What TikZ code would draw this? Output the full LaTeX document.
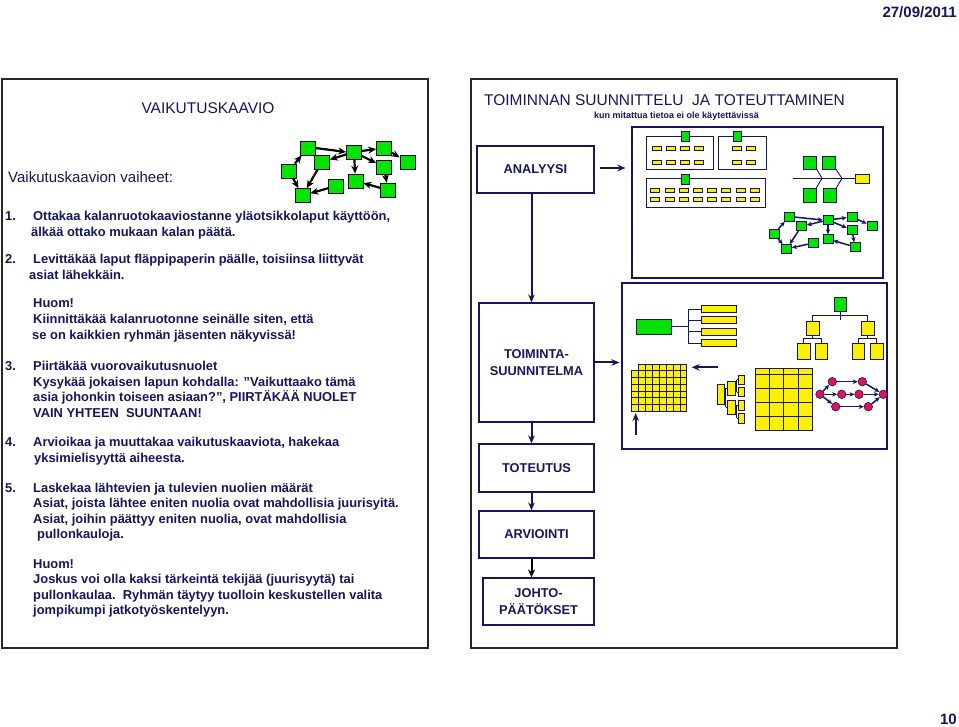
\documentclass[tikz,border=0pt]{standalone}
\usepackage{fontspec}
\setmainfont{Liberation Sans}
\usetikzlibrary{arrows.meta}
\definecolor{navy}{RGB}{22,22,96}
\definecolor{gr}{RGB}{0,228,0}
\definecolor{ye}{RGB}{250,240,0}
\definecolor{pk}{RGB}{222,20,90}
\definecolor{frame}{RGB}{40,40,40}
\begin{document}
\begin{tikzpicture}[x=1pt,y=-1pt,
  txt/.style={anchor=base west,text=navy,font=\bfseries\fontsize{12.9}{16}\selectfont,inner sep=0pt},
  gbox/.style={draw=black,fill=gr,minimum width=15pt,minimum height=14pt,inner sep=0pt,line width=0.7pt},
  sbox/.style={draw=navy,fill=gr,minimum width=10pt,minimum height=9pt,inner sep=0pt,line width=0.6pt},
  arr/.style={-{Stealth[length=8pt,width=7pt]},line width=2.2pt,draw=black},
  marr/.style={-{Stealth[length=5pt,width=4.5pt]},line width=1.5pt,draw=navy},
  narr/.style={-{Stealth[length=8pt,width=6.5pt]},line width=2pt,draw=navy},
  flow/.style={draw=navy,line width=1.2pt,text=navy,align=center,inner sep=0pt,font=\bfseries\fontsize{12.8}{17}\selectfont},
  dbox/.style={draw=navy,line width=1.1pt,inner sep=0pt},
  panel/.style={draw=frame,line width=1.4pt},
  yr/.style={draw=navy,fill=ye,line width=0.6pt},
  gr1/.style={draw=navy,fill=gr,line width=0.6pt},
  thin/.style={draw=navy,line width=0.9pt},
  pnode/.style={circle,draw=navy,fill=pk,minimum size=8.5pt,inner sep=0pt,line width=0.6pt}
]
\path[use as bounding box,fill=white] (0,0) rectangle (959,727);

% header / footer
\node[anchor=base east,text=navy,inner sep=0pt,font=\bfseries\fontsize{15}{18}\selectfont] (date) at (957,18) {27/09/2011};
\node[anchor=base east,text=navy,inner sep=0pt,font=\bfseries\fontsize{15}{18}\selectfont] (pg) at (957,724) {10};

% panels
\draw[panel] (2,79) rectangle (428,648);
\draw[panel] (471,79) rectangle (897,648);

% ---------- left panel ----------
\node[text=navy,font=\fontsize{15.5}{18}\selectfont,inner sep=0pt] (ltitle) at (208,108) {VAIKUTUSKAAVIO};
\node[anchor=base west,text=navy,inner sep=0pt,font=\fontsize{15}{18}\selectfont] (vaiheet) at (8,182.5) {Vaikutuskaavion vaiheet:};

\node[txt] (n1) at (5,221) {1.};
\node[txt] (t1a) at (33,221) {Ottakaa kalanruotokaaviostanne yläotsikkolaput käyttöön,};
\node[txt] (t1b) at (31,237) {älkää ottako mukaan kalan päätä.};
\node[txt] (n2) at (5,264) {2.};
\node[txt] (t2a) at (33,264) {Levittäkää laput fläppipaperin päälle, toisiinsa liittyvät};
\node[txt] (t2b) at (29,279.5) {asiat lähekkäin.};
\node[txt] (h1) at (33,308) {Huom!};
\node[txt] (h1a) at (33,324) {Kiinnittäkää kalanruotonne seinälle siten, että};
\node[txt] (h1b) at (32,339.5) {se on kaikkien ryhmän jäsenten näkyvissä!};
\node[txt] (n3) at (5,371) {3.};
\node[txt] (t3a) at (33,371) {Piirtäkää vuorovaikutusnuolet};
\node[txt] (t3b) at (33,386.5) {Kysykää jokaisen lapun kohdalla: ”Vaikuttaako tämä};
\node[txt] (t3c) at (33,401.5) {asia johonkin toiseen asiaan?”, PIIRTÄKÄÄ NUOLET};
\node[txt] (t3d) at (33,417.5) {VAIN YHTEEN\ \ SUUNTAAN!};
\node[txt] (n4) at (5,446.5) {4.};
\node[txt] (t4a) at (33,446.5) {Arvioikaa ja muuttakaa vaikutuskaaviota, hakekaa};
\node[txt] (t4b) at (34,462.5) {yksimielisyyttä aiheesta.};
\node[txt] (n5) at (5,492.5) {5.};
\node[txt] (t5a) at (33,492.5) {Laskekaa lähtevien ja tulevien nuolien määrät};
\node[txt] (t5b) at (33,507.5) {Asiat, joista lähtee eniten nuolia ovat mahdollisia juurisyitä.};
\node[txt] (t5c) at (33,523) {Asiat, joihin päättyy eniten nuolia, ovat mahdollisia};
\node[txt] (t5d) at (37,538) {pullonkauloja.};
\node[txt] (h2) at (33,568) {Huom!};
\node[txt] (h2a) at (33,583.5) {Joskus voi olla kaksi tärkeintä tekijää (juurisyytä) tai};
\node[txt] (h2b) at (33,599) {pullonkaulaa.\ \ Ryhmän täytyy tuolloin keskustellen valita};
\node[txt] (h2c) at (33,614.5) {jompikumpi jatkotyöskentelyyn.};

% top-left network
\node[gbox] (A) at (307.5,148) {};
\node[gbox] (B) at (322,162) {};
\node[gbox] (C) at (289,171) {};
\node[gbox] (D) at (302.5,195.5) {};
\node[gbox] (E) at (336,186) {};
\node[gbox] (F) at (354,152) {};
\node[gbox] (G) at (384,148) {};
\node[gbox] (H) at (407.5,162) {};
\node[gbox] (I) at (384,167) {};
\node[gbox] (J) at (355.5,181) {};
\node[gbox] (K) at (388,190) {};
\draw[arr] (A.east) -- (F.west);
\draw[arr] (F) -- (B);
\draw[arr] (C) -- (A);
\draw[arr] (C) -- (D);
\draw[arr] (B) -- (D);
\draw[arr] (E) -- (D);
\draw[arr] (F) -- (G);
\draw[arr] (G) -- (H);
\draw[arr] (F) -- (I);
\draw[arr] (F) -- (J);
\draw[arr] (I) -- (K);
\draw[arr] (K) -- (J);

% ---------- right panel ----------
\node[text=navy,font=\fontsize{15.5}{18}\selectfont,inner sep=0pt] (rtitle) at (664.5,100) {TOIMINNAN SUUNNITTELU\ \ JA TOTEUTTAMINEN};
\node[text=navy,font=\bfseries\fontsize{9}{11}\selectfont,inner sep=0pt] (rsub) at (676.5,116.5) {kun mitattua tietoa ei ole käytettävissä};

\node[flow,minimum width=117pt,minimum height=47pt] (an) at (535.5,169.5) {ANALYYSI};
\node[flow,minimum width=115pt,minimum height=119pt] (toim) at (536.5,362.5) {TOIMINTA-\\SUUNNITELMA};
\node[flow,minimum width=115pt,minimum height=48pt] (tot) at (536.5,468) {TOTEUTUS};
\node[flow,minimum width=115pt,minimum height=47pt] (arv) at (536.5,534.5) {ARVIOINTI};
\node[flow,minimum width=111pt,minimum height=47pt] (joh) at (538.5,601.5) {JOHTO-\\PÄÄTÖKSET};

\node[dbox,minimum width=251pt,minimum height=151pt] (db1) at (757.5,202.5) {};
\node[dbox,minimum width=265pt,minimum height=166pt] (db2) at (754.5,366) {};

\draw[narr] ([xshift=-4pt]an.south) -- ([xshift=-4pt]an.south |- toim.north);
\draw[narr] ([xshift=-5pt]toim.south) -- ([xshift=-5pt]toim.south |- tot.north);
\draw[narr] ([xshift=-5pt]tot.south) -- ([xshift=-5pt]tot.south |- arv.north);
\draw[arr,line width=2pt] ([xshift=-5pt]arv.south) -- ([xshift=-5pt]arv.south |- joh.north);
\draw[narr,shorten <=5pt,shorten >=6pt] ([yshift=1.5pt]an.east) -- ([yshift=1.5pt]an.east -| db1.west);
\draw[narr,shorten >=2pt] (toim.east) -- (toim.east -| db2.west);

% box 1: grouped notes
\draw[thin] (646,136) rectangle (713,169);
\draw[gr1] (681,131) rectangle (689,141);
\foreach \x in {656.5,670.5,684.5,698.5}{\foreach \y in {148,162}{\draw[yr] (\x-4.5,\y-2) rectangle (\x+4.5,\y+2);}}
\draw[thin] (718,136) rectangle (766,169);
\draw[gr1] (733,131) rectangle (741,141);
\foreach \x in {737,751}{\foreach \y in {148,162}{\draw[yr] (\x-4.5,\y-2) rectangle (\x+4.5,\y+2);}}
\draw[thin] (646,178) rectangle (765,207);
\draw[gr1] (681,174) rectangle (689,184);
\foreach \x in {655,669.5,684,698,712,726,740.5,754.5}{\foreach \y in {190.3,199.7}{\draw[yr] (\x-4.5,\y-2) rectangle (\x+4.5,\y+2);}}

% fishbone
\draw[thin] (793,178.3) -- (855,178.3);
\draw[thin] (816,168) -- (822,178.3) -- (816,188.5);
\draw[thin] (835,168) -- (842,178.3) -- (836,188.5);
\draw[gr1] (803,156) rectangle (816,169);
\draw[gr1] (822,156) rectangle (835,169);
\draw[gr1] (803,188) rectangle (816,202);
\draw[gr1] (823,188) rectangle (836,202);
\draw[yr] (855,174) rectangle (869,183);

% mini network
\node[sbox] (ma) at (789,217) {};
\node[sbox] (mb) at (801.5,226.3) {};
\node[sbox] (mc) at (774,233.7) {};
\node[sbox] (md) at (786.5,249) {};
\node[sbox] (me) at (813,243) {};
\node[sbox] (mf) at (828,220) {};
\node[sbox] (mg) at (852,217) {};
\node[sbox] (mh) at (872,226) {};
\node[sbox] (mi) at (852,230) {};
\node[sbox] (mj) at (828,239) {};
\node[sbox] (mk) at (855,247) {};
\draw[marr] (ma.east) -- (mf.west);
\draw[marr] (mf) -- (mb);
\draw[marr] (mc) -- (ma);
\draw[marr] (mc) -- (md);
\draw[marr] (mb) -- (md);
\draw[marr] (me) -- (md);
\draw[marr] (mf) -- (mg);
\draw[marr] (mg) -- (mh);
\draw[marr] (mf) -- (mi);
\draw[marr] (mf) -- (mj);
\draw[marr] (mi) -- (mk);
\draw[marr] (mk) -- (mj);

% box 2: tree diagram
\draw[thin] (671,326.5) -- (688.3,326.5);
\draw[thin] (688.3,309.2) -- (688.3,343.3);
\foreach \y in {309.2,320.2,331.8,343.3}{\draw[thin] (688.3,\y) -- (701.7,\y); \draw[yr] (701.7,\y-3.5) rectangle (736,\y+3.5);}
\draw[gr1] (636,319) rectangle (671,334);

% org chart
\draw[thin] (840.5,311.7) -- (840.5,320);
\draw[thin] (812.7,321) -- (812.7,315) -- (867.8,315) -- (867.8,321);
\draw[thin] (812.7,335) -- (812.7,338.3);
\draw[thin] (803.8,343.3) -- (803.8,338.3) -- (821.2,338.3) -- (821.2,343.3);
\draw[thin] (867.8,335) -- (867.8,338.3);
\draw[thin] (858.3,343.3) -- (858.3,338.3) -- (876.7,338.3) -- (876.7,343.3);
\draw[gr1] (834.3,297.3) rectangle (846.7,311.7);
\draw[yr] (806,321) rectangle (819.3,335);
\draw[yr] (861.7,321) rectangle (874,335);
\draw[yr] (797.7,343.3) rectangle (810,359.3);
\draw[yr] (815,343.3) rectangle (827.3,359.3);
\draw[yr] (852.3,343.3) rectangle (864.3,359.3);
\draw[yr] (870,343.3) rectangle (883.3,359.3);

% stacked grid
\foreach \i in {1,...,7}{\draw[yr] (631.7+\i*6.875,364) rectangle ++(6.875,6.714);}
\foreach \i in {0,...,7}{\foreach \j in {1,...,6}{\draw[yr] (631.7+\i*6.875,364+\j*6.714) rectangle ++(6.875,6.714);}}
\coordinate (la1) at (717.7,367.3);
\coordinate (la2) at (691.7,367.3);
\draw[narr,line width=1.8pt] (la1) -- (la2);
\coordinate (ua1) at (635.7,435);
\coordinate (ua2) at (635.7,413);
\draw[narr,line width=1.8pt] (ua1) -- (ua2);

% small tree
\draw[thin] (724.3,394.3) -- (725.8,394.3);
\draw[thin] (725.8,388.3) -- (725.8,407.3);
\draw[thin] (725.8,388.3) -- (727.3,388.3);
\draw[thin] (725.8,407.3) -- (727.3,407.3);
\draw[thin] (735,388.3) -- (736.6,388.3);
\draw[thin] (736.6,379.6) -- (736.6,392);
\draw[thin] (736.6,379.6) -- (738.3,379.6);
\draw[thin] (736.6,392) -- (738.3,392);
\draw[thin] (735,407.3) -- (736.6,407.3);
\draw[thin] (736.6,405.3) -- (736.6,418.3);
\draw[thin] (736.6,405.3) -- (738.3,405.3);
\draw[thin] (736.6,418.3) -- (738.3,418.3);
\draw[yr] (717.3,384.3) rectangle (724.3,404.3);
\draw[yr] (727.3,381.7) rectangle (735,395);
\draw[yr] (727.3,400.7) rectangle (735,414);
\draw[yr] (738.3,375) rectangle (744.3,384.3);
\draw[yr] (738.3,387.3) rectangle (744.3,396.7);
\draw[yr] (738.3,400.7) rectangle (744.3,410);
\draw[yr] (738.3,413.3) rectangle (744.3,423.3);

% big grid
\draw[yr,line width=0.9pt] (755,368.3) rectangle (812.3,430.7);
\foreach \x in {769.3,783.6,798}{\draw[navy,line width=0.9pt] (\x,368.3) -- (\x,430.7);}
\foreach \y in {374.5,388.5,402.6,416.6}{\draw[navy,line width=0.9pt] (755,\y) -- (812.3,\y);}

% PERT network
\node[pnode] (ps) at (820,394.3) {};
\node[pnode] (pt1) at (832.3,381.7) {};
\node[pnode] (pt2) at (862.3,381.7) {};
\node[pnode] (pm1) at (841.7,394.3) {};
\node[pnode] (pm2) at (859,394.3) {};
\node[pnode] (pb1) at (835.7,406.7) {};
\node[pnode] (pb2) at (868.3,406.7) {};
\node[pnode] (pe) at (883.3,394.3) {};
\draw[marr] (ps) -- (pt1);
\draw[marr] (pt1) -- (pt2);
\draw[marr] (pt2) -- (pe);
\draw[marr] (ps) -- (pm1);
\draw[marr] (pm1) -- (pm2);
\draw[marr] (pm2) -- (pe);
\draw[marr] (ps) -- (pb1);
\draw[marr] (pb1) -- (pb2);
\draw[marr] (pb2) -- (pe);
\end{tikzpicture}
\end{document}
